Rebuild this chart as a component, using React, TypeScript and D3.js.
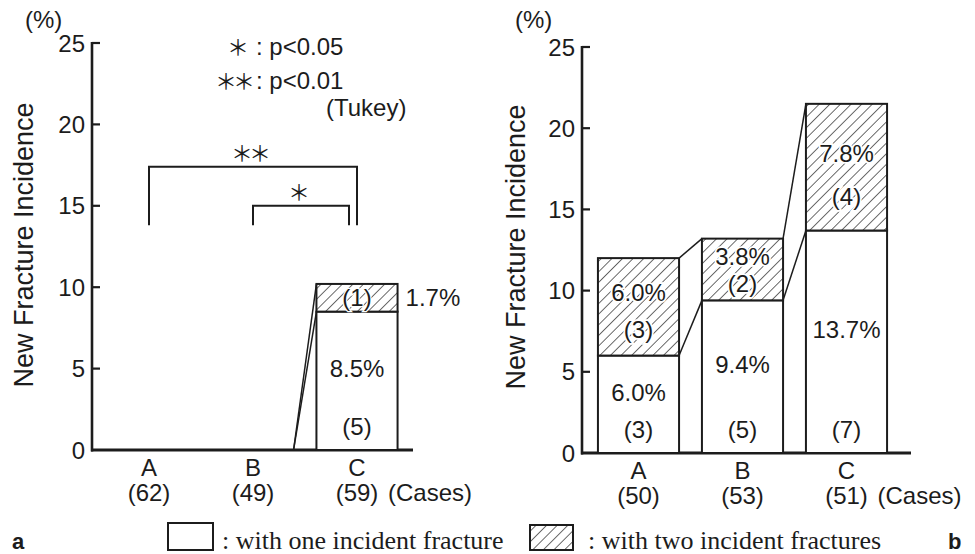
import React from 'react';
import * as d3 from 'd3';

// shared
const categories = ['A', 'B', 'C'];
const yTicks = [0, 5, 10, 15, 20, 25];

// panel a
const casesA = [62, 49, 59];
const oneA = [0, 0, 8.5];
const twoA = [0, 0, 1.7];
const oneCountA = [0, 0, 5];
const twoCountA = [0, 0, 1];

// panel b
const casesB = [50, 53, 51];
const oneB = [6.0, 9.4, 13.7];
const twoB = [6.0, 3.8, 7.8];
const oneCountB = [3, 5, 7];
const twoCountB = [3, 2, 4];

// Tukey comparisons for panel a
const comparisons = [
  { from: 'A', to: 'C', label: '＊＊', level: 17.4, shift: 0 },
  { from: 'B', to: 'C', label: '＊', level: 15.0, shift: -8 },
];
const legBottom = 13.8;

const SANS = '"Liberation Sans", Arial, sans-serif';
const SERIF = '"Liberation Serif", "Times New Roman", serif';
const CJK = '"Noto Sans CJK JP", sans-serif';
const INK = '#1c1c1c';

type PanelProps = {
  cases: number[];
  one: number[];
  two: number[];
  oneCount: number[];
  twoCount: number[];
  x0: number;
  x1: number;
  yBottom: number;
  yTop: number;
  axisX: number;
  axisEnd: number;
  labelX: number;
  labelY: number;
  stats?: boolean;
};

const Panel = (p: PanelProps) => {
  const x = d3.scaleBand().domain(categories).range([p.x0, p.x1]).paddingInner(0.22).paddingOuter(0.11);
  const y = d3.scaleLinear().domain([0, 25]).range([p.yBottom, p.yTop]);
  const bw = x.bandwidth();
  const cx = (c: string) => (x(c) as number) + bw / 2;
  const nY = y(0) - 24;

  return (
    <g>
      {/* y axis */}
      <line x1={p.axisX} x2={p.axisX} y1={y(25) - 1} y2={y(0) + 1.5} stroke={INK} strokeWidth={2.6} />
      <line x1={p.axisX - 1} x2={p.axisEnd} y1={y(0)} y2={y(0)} stroke={INK} strokeWidth={3} />
      {yTicks.map(t => (
        <g key={t}>
          {t > 0 && <line x1={p.axisX} x2={p.axisX + 8} y1={y(t)} y2={y(t)} stroke={INK} strokeWidth={2.2} />}
          <text x={p.axisX - 7} y={y(t)} dy="0.36em" textAnchor="end" fontSize={24} fontFamily={SANS} fill={INK}>
            {t}
          </text>
        </g>
      ))}
      <text x={p.axisX - 67} y={28} fontSize={24} fontFamily={SANS} fill={INK}>(%)</text>
      <text transform={`translate(${p.labelX},${p.labelY}) rotate(-90)`} textAnchor="middle" fontSize={27} fontFamily={SANS} fill={INK}>
        New Fracture Incidence
      </text>

      {/* connectors between bars */}
      {categories.slice(0, -1).map((c, i) => {
        const n = categories[i + 1];
        const xa = (x(c) as number) + bw;
        const xb = x(n) as number;
        return (
          <g key={'con' + c}>
            <line x1={xa} x2={xb} y1={y(p.one[i])} y2={y(p.one[i + 1])} stroke={INK} strokeWidth={1.5} />
            <line x1={xa} x2={xb} y1={y(p.one[i] + p.two[i])} y2={y(p.one[i + 1] + p.two[i + 1])} stroke={INK} strokeWidth={1.5} />
          </g>
        );
      })}

      {/* bars */}
      {categories.map((c, i) => {
        const bx = x(c) as number;
        const one = p.one[i];
        const two = p.two[i];
        const tot = one + two;
        const hTwo = y(one) - y(tot);
        const midTwo = (y(one) + y(tot)) / 2;
        return (
          <g key={'bar' + c}>
            {one > 0 && (
              <rect x={bx} y={y(one)} width={bw} height={y(0) - y(one)} fill="#fff" stroke={INK} strokeWidth={2} />
            )}
            {two > 0 && (
              <rect x={bx} y={y(tot)} width={bw} height={hTwo} fill="url(#hatch)" stroke={INK} strokeWidth={2} />
            )}
            {one > 0 && (
              <g fontSize={24} fontFamily={SANS} fill={INK} textAnchor="middle">
                <text x={cx(c)} y={(y(one) + nY) / 2} dy="0.36em">{one.toFixed(1)}%</text>
                <text x={cx(c)} y={nY} dy="0.36em">({p.oneCount[i]})</text>
              </g>
            )}
            {two > 0 && hTwo < 40 && (
              <g fontSize={24} fontFamily={SANS} fill={INK}>
                <text x={cx(c)} y={midTwo} dy="0.36em" textAnchor="middle" stroke="#fff" strokeWidth={2.5} paintOrder="stroke">({p.twoCount[i]})</text>
                <text x={bx + bw + 8} y={midTwo} dy="0.36em">{two.toFixed(1)}%</text>
              </g>
            )}
            {two > 0 && hTwo >= 40 && (
              <g fontSize={24} fontFamily={SANS} fill={INK} textAnchor="middle" stroke="#fff" strokeWidth={3.5} paintOrder="stroke">
                <text x={cx(c)} y={midTwo - Math.min(14, hTwo * 0.22)} dy="0.36em">{two.toFixed(1)}%</text>
                <text x={cx(c)} y={midTwo + hTwo * 0.23} dy="0.36em">({p.twoCount[i]})</text>
              </g>
            )}
            <g fontSize={24} fontFamily={SANS} fill={INK} textAnchor="middle">
              <text x={cx(c)} y={y(0) + 26}>{c}</text>
              <text x={cx(c)} y={y(0) + 51}>({p.cases[i]})</text>
            </g>
          </g>
        );
      })}
      <text x={cx('C') + 31} y={y(0) + 51} fontSize={24} fontFamily={SANS} fill={INK}>(Cases)</text>

      {p.stats && (
        <g>
          {comparisons.map(cmp => {
            const xa = cx(cmp.from);
            const xb = cx(cmp.to) + cmp.shift;
            const yl = y(cmp.level);
            return (
              <g key={cmp.label}>
                <path d={`M${xa},${y(legBottom)}V${yl}H${xb}V${y(legBottom)}`} fill="none" stroke={INK} strokeWidth={2} />
                <text x={(xa + xb) / 2 - 4} y={yl - 14} dy="0.36em" textAnchor="middle" fontSize={22} fontFamily={CJK} fill={INK} letterSpacing={-4}>
                  {cmp.label}
                </text>
              </g>
            );
          })}
          <g fontSize={24} fontFamily={SANS} fill={INK}>
            <text x={249} y={55} textAnchor="end" fontFamily={CJK} fontSize={22}>＊</text>
            <text x={256} y={55}>: p&lt;0.05</text>
            <text x={251} y={89} textAnchor="end" fontFamily={CJK} fontSize={22} letterSpacing={-4}>＊＊</text>
            <text x={256} y={89}>: p&lt;0.01</text>
            <text x={326} y={116}>(Tukey)</text>
          </g>
        </g>
      )}
    </g>
  );
};

const App = () => {
  return (
    <svg width={975} height={554} style={{ position: 'absolute', left: 0, top: 0, background: '#fff' }}>
      <defs>
        <pattern id="hatch" patternUnits="userSpaceOnUse" width={7.5} height={7.5} patternTransform="rotate(45)">
          <rect width={7.5} height={7.5} fill="#fff" />
          <line x1={0} y1={0} x2={0} y2={7.5} stroke={INK} strokeWidth={1.3} />
        </pattern>
      </defs>

      <Panel cases={casesA} one={oneA} two={twoA} oneCount={oneCountA} twoCount={twoCountA}
        x0={97} x1={409} yBottom={450} yTop={43} axisX={92} axisEnd={413} labelX={33} labelY={245} stats />
      <Panel cases={casesB} one={oneB} two={twoB} oneCount={oneCountB} twoCount={twoCountB}
        x0={586.5} x1={898.5} yBottom={453} yTop={47} axisX={582} axisEnd={911} labelX={525} labelY={247} />

      {/* bottom legend */}
      <rect x={168} y={523} width={45} height={27} fill="#fff" stroke={INK} strokeWidth={2} />
      <text x={222} y={549} fontSize={26} fontFamily={SERIF} fill={INK}>: with one incident fracture</text>
      <rect x={530} y={525} width={43} height={25} fill="url(#hatch)" stroke={INK} strokeWidth={2} />
      <text x={588} y={549} fontSize={26} fontFamily={SERIF} fill={INK}>: with two incident fractures</text>

      <text x={12} y={549} fontSize={22} fontWeight="bold" fontFamily={SANS} fill={INK}>a</text>
      <text x={948} y={549} fontSize={22} fontWeight="bold" fontFamily={SANS} fill={INK}>b</text>
    </svg>
  );
};

export default App;
